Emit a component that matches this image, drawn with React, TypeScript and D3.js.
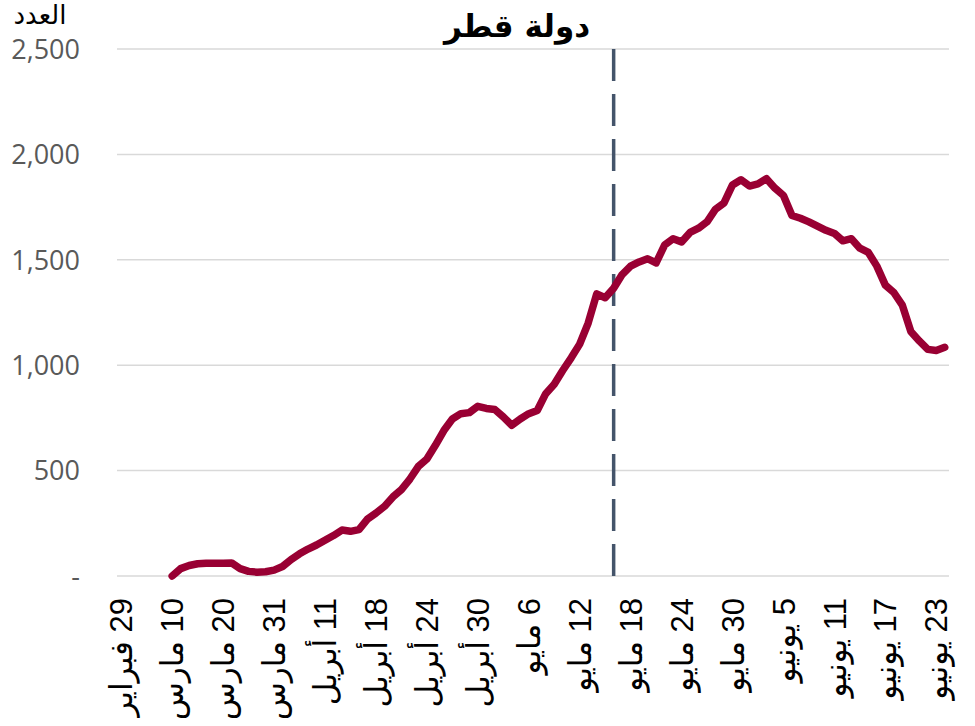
import React from 'react';
import * as d3 from 'd3';

// daily values, one per category (null = no data)
const values: (number | null)[] = [
  null, null, null, null, null, null,
  0, 35, 50, 58, 60, 60, 61, 62, 35, 22,
  18, 20, 28, 45, 78, 105, 128, 147, 170, 192,
  218, 212, 220, 270, 298, 330, 375, 410, 460, 520,
  555, 620, 690, 745, 770, 775, 805, 795, 790, 755,
  715, 745, 770, 785, 865, 910, 975, 1035, 1100, 1200,
  1338, 1320, 1365, 1430, 1470, 1490, 1505, 1485, 1570, 1600,
  1585, 1630, 1650, 1680, 1740, 1770, 1855, 1880, 1850, 1860,
  1885, 1840, 1805, 1710, 1697, 1680, 1660, 1640, 1625, 1590,
  1600, 1555, 1535, 1470, 1380, 1345, 1285, 1160, 1115, 1075,
  1070, 1085,
];

// a date label every 6 categories
const tickLabels = [
  '29 فبراير', '10 مارس', '20 مارس', '31 مارس', '11 أبريل', '18 أبريل',
  '24 أبريل', '30 أبريل', '6 مايو', '12 مايو', '18 مايو', '24 مايو',
  '30 مايو', '5 يونيو', '11 يونيو', '17 يونيو', '23 يونيو',
];
const tickStep = 6;
const markerIndex = 58;

const yTicks = [0, 500, 1000, 1500, 2000, 2500];

const W = 975;
const H = 726;
const left = 117;
const right = 949;
const top = 49;
const bottom = 576;

export default function App() {
  const idx = values.map((_, i) => i);
  const x = d3.scaleBand<number>().domain(idx).range([left, right]);
  const cx = (i: number) => (x(i) as number) + x.bandwidth() / 2;
  const y = d3.scaleLinear().domain([0, 2500]).range([bottom, top]);

  const line = d3
    .line<number | null>()
    .defined((d) => d !== null)
    .x((_, i) => cx(i))
    .y((d) => y(d as number));

  const fmt = d3.format(',');

  return (
    <svg width={W} height={H} style={{ position: 'absolute', left: 0, top: 0, background: '#fff' }}>
      {/* title */}
      <text x={517} y={37} textAnchor="middle" fontFamily="DejaVu Sans" fontWeight="bold" fontSize={31} fill="#000">
        دولة قطر
      </text>
      <text x={40} y={24} textAnchor="middle" fontFamily="DejaVu Sans" fontSize={26} fill="#000">
        العدد
      </text>

      {/* grid */}
      {yTicks.map((t) => (
        <g key={t}>
          <line x1={left} x2={right} y1={y(t)} y2={y(t)} stroke="#d9d9d9" strokeWidth={1.5} />
          <text
            x={80}
            y={y(t)}
            dy="0.36em"
            textAnchor="end"
            fontFamily="Open Sans"
            fontSize={27}
            fill="#595959"
          >
            {t === 0 ? '-' : fmt(t)}
          </text>
        </g>
      ))}

      {/* x labels */}
      {tickLabels.map((lab, k) => (
        <text
          key={k}
          transform={`translate(${cx(k * tickStep)},${598}) rotate(-90)`}
          dy="0.36em"
          direction="rtl"
          textAnchor="start"
          fontFamily="Liberation Sans, DejaVu Sans"
          fontSize={31}
          fill="#000"
        >
          {lab}
        </text>
      ))}

      {/* marker */}
      <line
        x1={cx(markerIndex)}
        x2={cx(markerIndex)}
        y1={top}
        y2={584}
        stroke="#44546a"
        strokeWidth={3.5}
        strokeDasharray="32,13"
      />

      <path
        d={line(values) || ''}
        fill="none"
        stroke="#990033"
        strokeWidth={7.5}
        strokeLinejoin="round"
        strokeLinecap="round"
      />
    </svg>
  );
}
